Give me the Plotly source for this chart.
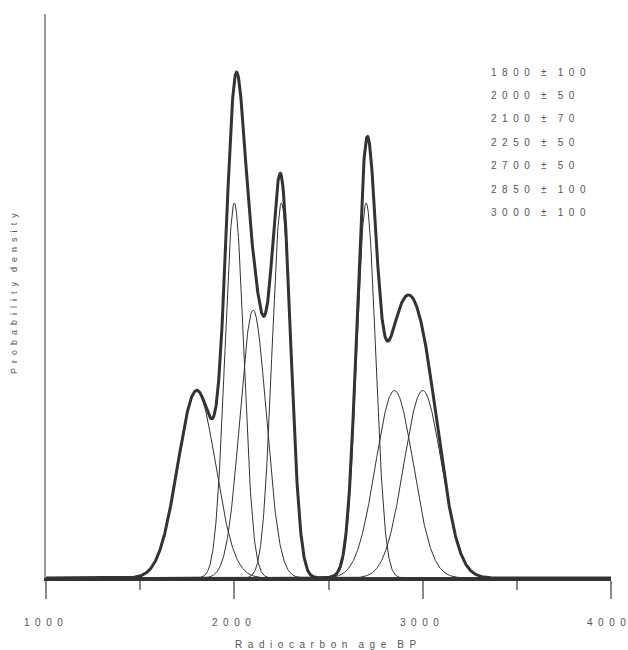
import numpy as np
import plotly.graph_objects as go

# ---- data ----
means = [1800, 2000, 2100, 2250, 2700, 2850, 3000]
sds = [100, 50, 70, 50, 50, 100, 100]
x_ticks = [1000, 2000, 3000, 4000]
x_title = "Radiocarbon age BP"
y_title = "Probability density"

W, H = 628, 650
ML, MR, MT, MB = 46, 17, 14, 72
PW, PH = W - ML - MR, H - MT - MB

SEP = "\u2007"


def spaced(s, trailing=True):
    t = SEP.join("" if c == " " else c for c in s)
    return t + SEP if trailing else t


def py(ypix):
    return (H - MB - ypix) / PH


xs = np.arange(1000, 4001, 2.0)
curves = [np.exp(-0.5 * ((xs - m) / s) ** 2) / (s * np.sqrt(2 * np.pi)) for m, s in zip(means, sds)]
total = np.sum(curves, axis=0)

fig = go.Figure()
for c in curves:
    fig.add_trace(go.Scatter(x=xs, y=c, mode="lines", line=dict(color="#333333", width=1),
                             hoverinfo="skip", showlegend=False))
fig.add_trace(go.Scatter(x=xs, y=total, mode="lines", line=dict(color="#333333", width=3),
                         hoverinfo="skip", showlegend=False))

TXT = "#555555"
FONT = "Liberation Sans, Arial, sans-serif"

fig.update_layout(
    width=W, height=H,
    margin=dict(l=ML, r=MR, t=MT, b=MB, pad=0, autoexpand=False),
    paper_bgcolor="white", plot_bgcolor="white",
    showlegend=False,
    font=dict(family=FONT, size=10, color=TXT),
    xaxis=dict(
        range=[1000, 4000], showgrid=False, zeroline=False, automargin=False,
        showline=True, linecolor="#333333", linewidth=3,
        tickmode="array", tickvals=x_ticks, showticklabels=False,
        ticks="outside", ticklen=18, tickwidth=1.5, tickcolor="#888888",
        minor=dict(dtick=500, tick0=1000, ticks="outside", ticklen=9, tickwidth=1.5, tickcolor="#888888"),
    ),
    yaxis=dict(
        range=[0, 0.012], showgrid=False, zeroline=False, automargin=False,
        showline=True, linecolor="#999999", linewidth=2,
        showticklabels=False, ticks="",
    ),
)

# x tick labels (letter-spaced); the last one is kept inside the page
for i, t in enumerate(x_ticks):
    last = i == len(x_ticks) - 1
    fig.add_annotation(
        text=spaced(str(t), trailing=not last), xref="x", yref="paper",
        x=t, y=py(622), xanchor="right" if last else "center", yanchor="middle",
        xshift=(W - ML - PW) - 0.5 if last else 0,
        showarrow=False, font=dict(family=FONT, size=10, color=TXT),
    )

# text list of dates
for i, (m, s) in enumerate(zip(means, sds)):
    fig.add_annotation(
        text=spaced(f"{m} ± {s}", trailing=False), xref="paper", yref="paper",
        x=(489 - ML) / PW, y=py(72 + 23.4 * i),
        xanchor="left", yanchor="middle", showarrow=False,
        font=dict(family=FONT, size=10, color=TXT),
    )

# axis titles
fig.add_annotation(
    text=spaced(x_title), xref="paper", yref="paper",
    x=0.5, y=py(644), xanchor="center", yanchor="middle",
    showarrow=False, font=dict(family=FONT, size=10, color=TXT),
)
fig.add_annotation(
    text=spaced(y_title), xref="paper", yref="paper",
    x=(14 - ML) / PW, y=py(291), xanchor="center", yanchor="middle",
    textangle=-90, showarrow=False, font=dict(family=FONT, size=9, color=TXT),
)

fig.write_html(
    "out.html",
    config={"displayModeBar": False},
    post_script="document.body.style.margin='0';document.body.style.overflow='hidden';",
)
